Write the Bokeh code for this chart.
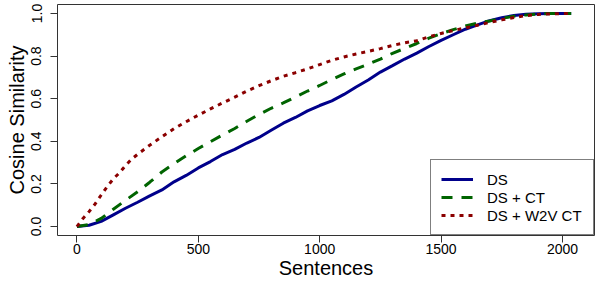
from bokeh.plotting import figure
from bokeh.models import FixedTicker, NumeralTickFormatter, Range1d, Legend, LegendItem
from bokeh.embed import file_html
from bokeh.resources import INLINE

# ---- data ----
ds_x = [0, 50, 100, 150, 200, 250, 300, 350, 400, 450, 500, 550, 600, 650, 700, 750,
        800, 850, 900, 950, 1000, 1050, 1100, 1150, 1200, 1250, 1300, 1350, 1400, 1450,
        1500, 1550, 1600, 1650, 1700, 1750, 1800, 1850, 1900, 1950, 2036]
ds_y = [0.000, 0.006, 0.024, 0.055, 0.086, 0.114, 0.144, 0.172, 0.210, 0.240, 0.275,
        0.305, 0.338, 0.362, 0.392, 0.418, 0.452, 0.485, 0.512, 0.543, 0.568, 0.590,
        0.620, 0.655, 0.688, 0.725, 0.755, 0.786, 0.814, 0.845, 0.874, 0.900, 0.926,
        0.946, 0.966, 0.980, 0.990, 0.996, 0.999, 1.000, 1.000]

ct_x = ds_x
ct_y = [0.000, 0.010, 0.038, 0.081, 0.123, 0.163, 0.208, 0.256, 0.295, 0.332, 0.366,
        0.398, 0.430, 0.460, 0.494, 0.526, 0.555, 0.580, 0.608, 0.636, 0.662, 0.690,
        0.716, 0.740, 0.762, 0.786, 0.813, 0.836, 0.859, 0.884, 0.905, 0.924, 0.941,
        0.954, 0.965, 0.977, 0.987, 0.993, 0.997, 1.000, 1.000]

w2v_x = [0, 25, 50, 75, 100, 125, 150, 175, 200, 225, 250, 300, 350, 400, 450, 500,
         550, 600, 650, 700, 750, 800, 850, 900, 950, 1000, 1050, 1100, 1150, 1200,
         1250, 1300, 1350, 1400, 1450, 1500, 1550, 1600, 1650, 1700, 1750, 1800, 1850,
         1900, 1950, 2036]
w2v_y = [0.000, 0.038, 0.070, 0.106, 0.148, 0.188, 0.224, 0.252, 0.286, 0.316, 0.339,
         0.382, 0.421, 0.459, 0.492, 0.523, 0.552, 0.580, 0.607, 0.636, 0.661, 0.684,
         0.705, 0.722, 0.740, 0.760, 0.780, 0.796, 0.810, 0.822, 0.835, 0.850, 0.862,
         0.872, 0.890, 0.906, 0.920, 0.932, 0.945, 0.958, 0.970, 0.981, 0.990, 0.995,
         0.998, 1.000]

series_labels = ["DS", "DS + CT", "DS + W2V CT"]
x_ticks = [0, 500, 1000, 1500, 2000]
y_ticks = [0.0, 0.2, 0.4, 0.6, 0.8, 1.0]
x_title = "Sentences"
y_title = "Cosine Similarity"

FONT = "Liberation Sans"
FRAME = "#333333"

p = figure(width=596, height=282, output_backend="svg", toolbar_location=None,
           x_range=Range1d(-80, 2132), y_range=Range1d(-0.042, 1.042),
           min_border_left=57, min_border_right=2, min_border_top=4,
           min_border_bottom=47)
p.background_fill_color = "white"
p.border_fill_color = "white"
p.outline_line_color = FRAME
p.outline_line_width = 1
p.xgrid.visible = False
p.ygrid.visible = False

for ax in (p.xaxis[0], p.yaxis[0]):
    ax.axis_line_color = None
    ax.major_tick_line_color = FRAME
    ax.major_tick_out = 7
    ax.major_tick_in = 0
    ax.minor_tick_line_color = None
    ax.major_label_text_font = FONT
    ax.major_label_text_font_size = "14px"
    ax.major_label_text_color = "black"
    ax.axis_label_text_font = FONT
    ax.axis_label_text_font_size = "20px"
    ax.axis_label_text_font_style = "normal"
    ax.axis_label_text_color = "black"

p.xaxis.ticker = FixedTicker(ticks=x_ticks)
p.yaxis.ticker = FixedTicker(ticks=y_ticks)
p.yaxis.formatter = NumeralTickFormatter(format="0.0")
p.yaxis.major_label_orientation = "vertical"
p.xaxis.axis_label = x_title
p.yaxis.axis_label = y_title
p.xaxis.major_label_standoff = 1
p.xaxis.axis_label_standoff = 0
p.yaxis.major_label_standoff = 9
p.yaxis.axis_label_standoff = 1

r1 = p.line(ds_x, ds_y, line_color="#00008B", line_width=3)
r2 = p.line(ct_x, ct_y, line_color="#006400", line_width=3, line_dash="11 9")
r3 = p.line(w2v_x, w2v_y, line_color="#8B0000", line_width=3, line_dash="4 5")

legend = Legend(items=[LegendItem(label=series_labels[0], renderers=[r1]),
                       LegendItem(label=series_labels[1], renderers=[r2]),
                       LegendItem(label=series_labels[2], renderers=[r3])],
                location="bottom_right")
legend.margin = 0
legend.padding = 10
legend.spacing = 0
legend.glyph_width = 32
legend.glyph_height = 18
legend.label_height = 18
legend.label_standoff = 14
legend.label_width = 96
legend.border_line_color = "black"
legend.border_line_width = 1
legend.background_fill_color = "white"
legend.background_fill_alpha = 1
legend.label_text_font = FONT
legend.label_text_font_size = "15px"
legend.label_text_color = "black"
p.add_layout(legend)

open("out.html", "w").write(file_html(p, INLINE))
